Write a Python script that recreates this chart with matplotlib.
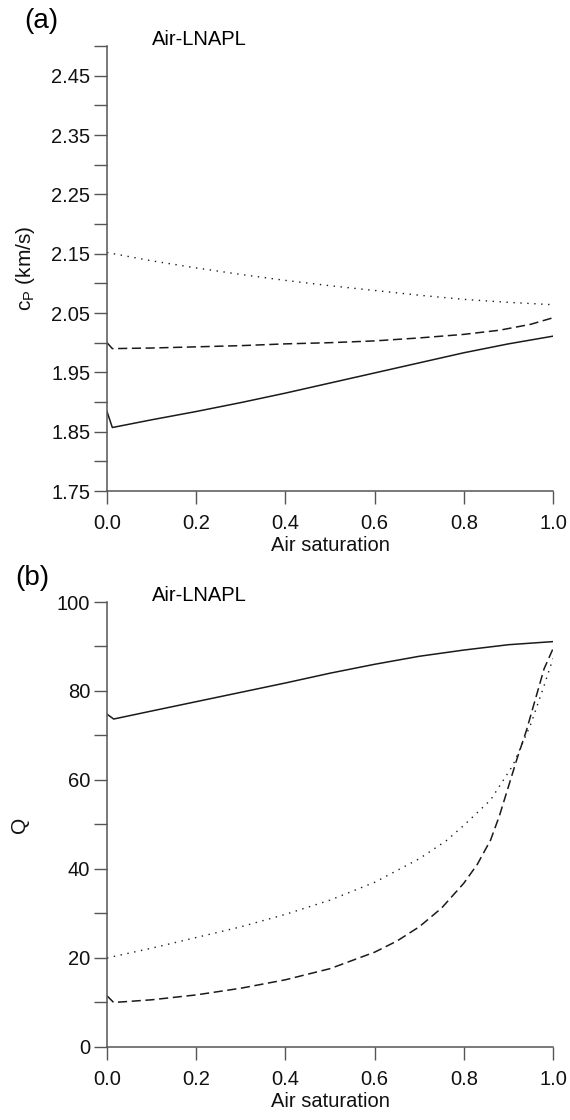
import matplotlib
matplotlib.use("Agg")
import matplotlib.pyplot as plt

plt.rcParams['font.family'] = ['Liberation Sans', 'DejaVu Sans']
plt.rcParams['mathtext.fontset'] = 'custom'
plt.rcParams['mathtext.rm'] = 'Liberation Sans'

# Panel (a): P-wave velocity (km/s) vs air saturation
sa_solid_a = [0.0, 0.012, 0.1, 0.2, 0.3, 0.4, 0.5, 0.6, 0.7, 0.8, 0.9, 1.0]
cp_solid = [1.884, 1.857, 1.870, 1.884, 1.899, 1.915, 1.932, 1.949, 1.966, 1.983, 1.998, 2.011]
sa_dash_a = [0.0, 0.012, 0.1, 0.2, 0.3, 0.4, 0.5, 0.6, 0.7, 0.8, 0.88, 0.95, 1.0]
cp_dash = [2.000, 1.990, 1.991, 1.993, 1.995, 1.998, 2.000, 2.003, 2.008, 2.014, 2.021, 2.031, 2.042]
sa_dot_a = [0.0, 0.1, 0.2, 0.3, 0.4, 0.5, 0.6, 0.7, 0.8, 0.9, 1.0]
cp_dot = [2.152, 2.138, 2.126, 2.115, 2.105, 2.096, 2.088, 2.080, 2.073, 2.068, 2.064]

# Panel (b): quality factor Q vs air saturation
sa_solid_b = [0.0, 0.015, 0.1, 0.2, 0.3, 0.4, 0.5, 0.6, 0.7, 0.8, 0.9, 1.0]
q_solid = [74.8, 73.7, 75.5, 77.6, 79.7, 81.8, 84.0, 86.0, 87.8, 89.2, 90.4, 91.1]
sa_dash_b = [0.0, 0.015, 0.1, 0.2, 0.3, 0.4, 0.5, 0.6, 0.65, 0.7, 0.75, 0.8, 0.83,
             0.86, 0.88, 0.9, 0.92, 0.94, 0.96, 0.98, 1.0]
q_dash = [11.5, 10.0, 10.6, 11.7, 13.2, 15.1, 17.6, 21.3, 23.8, 27.0, 31.2, 36.8, 41.0,
          46.5, 52.0, 58.5, 65.0, 71.0, 78.0, 85.0, 89.5]
sa_dot_b = [0.0, 0.1, 0.2, 0.3, 0.4, 0.5, 0.6, 0.7, 0.76, 0.8, 0.86, 0.91, 0.95, 0.98, 1.0]
q_dot = [20.0, 22.2, 24.6, 27.0, 29.8, 33.0, 37.0, 42.3, 46.3, 49.8, 55.5, 63.3, 72.5, 81.2, 87.3]

xticks = [0.0, 0.2, 0.4, 0.6, 0.8, 1.0]
lc = '#1a1a1a'
sc = '#555555'

fig = plt.figure(figsize=(5.7, 11.2), dpi=100)
ax1 = fig.add_axes([0.1877, 0.5616, 0.7825, 0.3973])
ax2 = fig.add_axes([0.1877, 0.0652, 0.7825, 0.3973])


def style(ax):
    for s in ['top', 'right']:
        ax.spines[s].set_visible(False)
    for s in ['left', 'bottom']:
        ax.spines[s].set_color(sc)
        ax.spines[s].set_linewidth(1.1)
    ax.tick_params(which='both', direction='out', length=9.5, width=1.0,
                   color=sc, labelsize=14.5, labelcolor='#111111')
    ax.tick_params(axis='y', pad=2.5)
    ax.tick_params(axis='x', pad=7)
    ax.set_xlim(0, 1.0)
    ax.set_xticks(xticks)
    ax.set_xticklabels(['%.1f' % v for v in xticks])
    ax.set_xlabel('Air saturation', fontsize=14.5, labelpad=2.5, color='#111111')


# (a)
ax1.plot(sa_solid_a, cp_solid, '-', color=lc, lw=1.1)
ax1.plot(sa_dash_a, cp_dash, color=lc, lw=1.1, dashes=(6, 3))
ax1.plot(sa_dot_a, cp_dot, color=lc, lw=1.0, dashes=(1, 4))
style(ax1)
ax1.set_ylim(1.75, 2.50)
ax1.set_yticks([1.75, 1.85, 1.95, 2.05, 2.15, 2.25, 2.35, 2.45])
ax1.set_yticks([1.80, 1.90, 2.00, 2.10, 2.20, 2.30, 2.40, 2.50], minor=True)
ax1.set_ylabel(r'c$_{\rm P}$ (km/s)', fontsize=15, labelpad=10, color='#111111')
fig.text(0.072, 0.981, '(a)', fontsize=20, va='center', ha='center')
fig.text(0.266, 0.965, 'Air-LNAPL', fontsize=14.5, va='center', ha='left')

# (b)
ax2.plot(sa_solid_b, q_solid, '-', color=lc, lw=1.1)
ax2.plot(sa_dash_b, q_dash, color=lc, lw=1.1, dashes=(6, 3))
ax2.plot(sa_dot_b, q_dot, color=lc, lw=1.0, dashes=(1, 4))
style(ax2)
ax2.set_ylim(0, 100)
ax2.set_yticks([0, 20, 40, 60, 80, 100])
ax2.set_yticks([10, 30, 50, 70, 90], minor=True)
ax2.set_ylabel('Q', fontsize=15, labelpad=20, color='#111111')
fig.text(0.056, 0.484, '(b)', fontsize=20, va='center', ha='center')
fig.text(0.266, 0.468, 'Air-LNAPL', fontsize=14.5, va='center', ha='left')

fig.savefig('out.png', dpi=100)
